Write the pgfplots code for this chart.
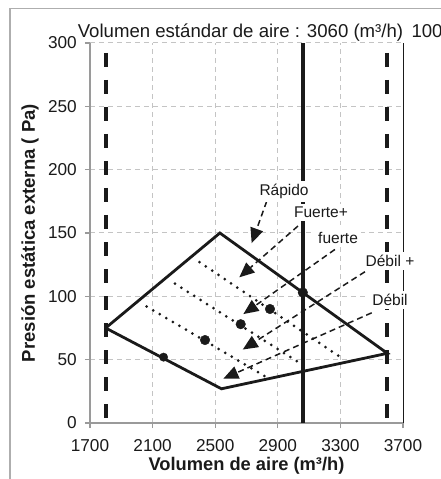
\documentclass[border=0pt]{standalone}
\usepackage{fontspec}
\setmainfont{Liberation Sans}
\usepackage{pgfplots}
\pgfplotsset{compat=1.18}
\usetikzlibrary{arrows.meta}

\definecolor{gridgray}{HTML}{C4C4C4}
\definecolor{axgray}{HTML}{9A9A9A}
\definecolor{ink}{HTML}{1A1A1A}

\pgfplotsset{
  ann/.style={ink, line width=1.5bp, dash pattern=on 6bp off 4bp,
    -{Triangle[length=15bp, width=13bp]}},
  dots/.style={ink, line width=3bp, line cap=round, dash pattern=on 0bp off 7.6bp},
  vdash/.style={ink, line width=3.8bp, dash pattern=on 14bp off 13bp, dash phase=17bp},
}
\newcommand{\lbl}{\fontsize{15.5bp}{18bp}\selectfont}

\begin{document}
\begin{tikzpicture}
\begin{axis}[
  scale only axis, width=313bp, height=380bp,
  xmin=1700, xmax=3700, ymin=0, ymax=300,
  xtick={1700,2100,2500,2900,3300,3700},
  ytick={0,50,100,150,200,250,300},
  axis x line*=bottom, axis y line*=left,
  axis line style={axgray, line width=1.2bp},
  tick style={axgray, line width=1.2bp},
  tick align=outside, major tick length=5bp,
  grid=major,
  grid style={gridgray, line width=1bp, dash pattern=on 5bp off 4bp},
  tick label style={font=\fontsize{17.2bp}{20bp}\selectfont, text=ink},
  /pgf/number format/assume math mode=true,
  /pgf/number format/1000 sep={},
  yticklabel style={anchor=east, inner sep=0pt, xshift=-8bp},
  xticklabel style={anchor=north, inner sep=0pt, yshift=-11bp},
  clip=false,
]
% right border
\addplot[ink, line width=1bp] coordinates {(3700,0) (3700,300)};
% limits and standard air volume
\addplot[vdash] coordinates {(1800,300) (1800,0)};
\addplot[vdash] coordinates {(3600,300) (3600,0)};
\addplot[ink, line width=3.4bp] coordinates {(3060,0) (3060,300)};
% operating area
\addplot[ink, line width=2.8bp, line join=miter] coordinates {(1800,75) (2530,150) (3600,55) (2540,27) (1800,75)};
% intermediate fan speeds
\addplot[dots] coordinates {(2400,127) (3300,52)};
\addplot[dots] coordinates {(2243,110) (3070,45)};
\addplot[dots] coordinates {(2062,92) (2830,36)};
% rated points
\addplot[ink, only marks, mark=*, mark size=4.8bp] coordinates {(2435,65.5) (2663,78) (2850,90) (3060,103)};
\addplot[ink, only marks, mark=*, mark size=4.2bp] coordinates {(2170,52)};
% callouts
\addplot[ann] coordinates {(2829,175) (2733,142)};
\addplot[ann] coordinates {(3029,155.5) (2654,115)};
\addplot[ann] coordinates {(3265,137) (2680,86)};
\addplot[ann] coordinates {(3457,119.4) (2676,58)};
\addplot[ann] coordinates {(3500,87) (2552,35)};
\node[fill=white, inner sep=3bp, font=\lbl, text=ink] at (axis cs:2940,183) {Rápido};
\node[fill=white, inner sep=3bp, font=\lbl, text=ink] at (axis cs:3176,166.5) {Fuerte+};
\node[fill=white, inner sep=3bp, font=\lbl, text=ink] at (axis cs:3285,146) {fuerte};
\node[fill=white, inner sep=3bp, font=\lbl, text=ink] at (axis cs:3617,128) {Débil +};
\node[fill=white, inner sep=3bp, font=\lbl, text=ink] at (axis cs:3617,97) {Débil};
\end{axis}
% titles
\node[anchor=base, font=\fontsize{18.6bp}{22bp}\selectfont, text=ink] at (150.5bp,385bp) {Volumen estándar de aire : 3060 (m³/h)};
\node[anchor=base west, font=\fontsize{18.6bp}{22bp}\selectfont, text=ink] at (318bp,385bp) {100};
\node[anchor=base, font=\fontsize{18.3bp}{22bp}\selectfont\bfseries, text=ink] at (156.5bp,-47bp) {Volumen de aire (m³/h)};
\node[rotate=90, font=\fontsize{18.5bp}{22bp}\selectfont\bfseries, text=ink] at (-60bp,190bp) {Presión estática externa ( Pa)};
% outer frame
\draw[axgray!80, line width=1.5bp] (-80bp,-60bp) -- (-80bp,414.5bp) -- (360bp,414.5bp);
\pgfresetboundingbox
\path[use as bounding box] (-90bp,-56bp) rectangle (351bp,423bp);
\end{tikzpicture}
\end{document}
